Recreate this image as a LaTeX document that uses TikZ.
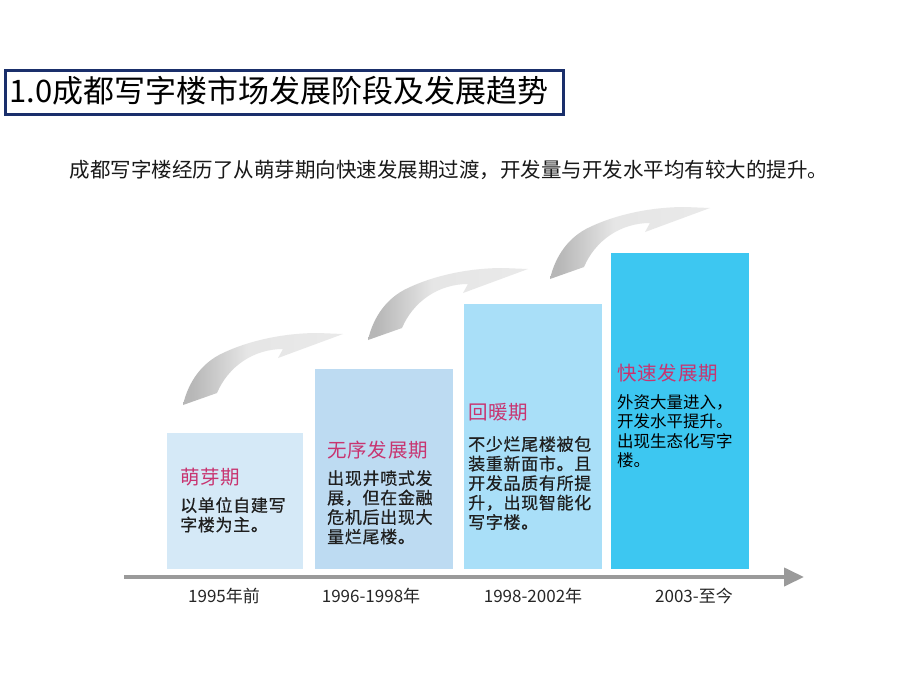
\documentclass[tikz,border=0pt]{standalone}
\usepackage{fontspec}
\setmainfont{Noto Sans CJK SC}
\newfontfamily\spacedfont[LetterSpace=4]{Noto Sans CJK SC}
\newfontfamily\boldbodyfont[LetterSpace=4,FakeBold=0.6]{Noto Sans CJK SC}
\usetikzlibrary{arrows.meta}
\definecolor{navy}{RGB}{26,47,107}
\definecolor{cA}{RGB}{213,233,247}
\definecolor{cB}{RGB}{189,219,242}
\definecolor{cC}{RGB}{169,223,248}
\definecolor{cD}{RGB}{61,199,241}
\definecolor{pinkt}{RGB}{200,52,112}
\definecolor{axisgray}{RGB}{154,154,154}
\pgfdeclarehorizontalshading{arrowshade}{100bp}{color(0bp)=(black!32); color(28bp)=(black!28); color(45bp)=(black!10); color(100bp)=(black!7)}
\tikzset{
  stagebox/.style={draw=none, inner sep=0, anchor=south west},
  stagettl/.style={inner sep=0, anchor=west, text=pinkt, font=\spacedfont\fontsize{19.5}{22}\selectfont},
  stagebody/.style={inner sep=0, anchor=north west, align=left, text=black!88, font=\boldbodyfont\fontsize{17}{19.5}\selectfont},
  yearlbl/.style={inner sep=0, anchor=center, text=black!85, font=\fontsize{17}{19}\selectfont},
  curvearrow/.pic={
    \shade[shading=arrowshade] (0,0) .. controls (5,-22) and (18,-42) .. (40,-52)
      .. controls (65,-64) and (100,-72) .. (135,-72) -- (160,-71) -- (95,-47) -- (100,-56)
      .. controls (70,-56) and (45,-38) .. (34,-12) -- cycle;
  }
}
\begin{document}
\begin{tikzpicture}[x=1pt,y=-1pt]
\useasboundingbox[fill=white] (0,0) rectangle (920,690);
% title
\node[draw=navy, line width=3pt, fill=white, minimum width=558pt, minimum height=44pt, inner sep=0, anchor=north west] (titlebox) at (4,69) {};
\node[inner sep=0, anchor=west, font=\fontsize{31}{34}\selectfont] (titletext) at (9,91) {1.0成都写字楼市场发展阶段及发展趋势};
% subtitle
\node[inner sep=0, font=\fontsize{20.5}{24}\selectfont, text=black!90] (subtitle) at (449,170) {成都写字楼经历了从萌芽期向快速发展期过渡，开发量与开发水平均有较大的提升。};
% curved arrows
\pic at (183,405) {curvearrow};
\pic at (368,340) {curvearrow};
\pic at (550,279) {curvearrow};
% stage boxes
\node[stagebox, fill=cA, minimum width=136pt, minimum height=136pt] (b1) at (167,569) {};
\node[stagebox, fill=cB, minimum width=138pt, minimum height=200pt] (b2) at (315,569) {};
\node[stagebox, fill=cC, minimum width=138pt, minimum height=265pt] (b3) at (464,569) {};
\node[stagebox, fill=cD, minimum width=138pt, minimum height=316pt] (b4) at (611,569) {};
% texts
\node[stagettl] (t1) at (180,477) {萌芽期};
\node[stagebody] (d1) at (180,497) {以单位自建写\\字楼为主。};
\node[stagettl] (t2) at (327,450) {无序发展期};
\node[stagebody] (d2) at (327,470) {出现井喷式发\\展，但在金融\\危机后出现大\\量烂尾楼。};
\node[stagettl] (t3) at (468,412) {回暖期};
\node[stagebody] (d3) at (468,436) {不少烂尾楼被包\\装重新面市。且\\开发品质有所提\\升，出现智能化\\写字楼。};
\node[stagettl] (t4) at (617,373) {快速发展期};
\node[stagebody, font=\fontsize{16.5}{19.5}\selectfont, text=black] (d4) at (617,394) {外资大量进入，\\开发水平提升。\\出现生态化写字\\楼。};
% timeline
\coordinate (ax0) at (124,577);
\coordinate (ax1) at (804,577);
\draw[axisgray, line width=4pt, -{Triangle[length=20pt,width=18pt]}] (ax0) -- (ax1);
\node[yearlbl] (y1) at (224,596) {1995年前};
\node[yearlbl] (y2) at (371,596) {1996-1998年};
\node[yearlbl] (y3) at (533,596) {1998-2002年};
\node[yearlbl] (y4) at (694,596) {2003-至今};
\end{tikzpicture}
\end{document}
